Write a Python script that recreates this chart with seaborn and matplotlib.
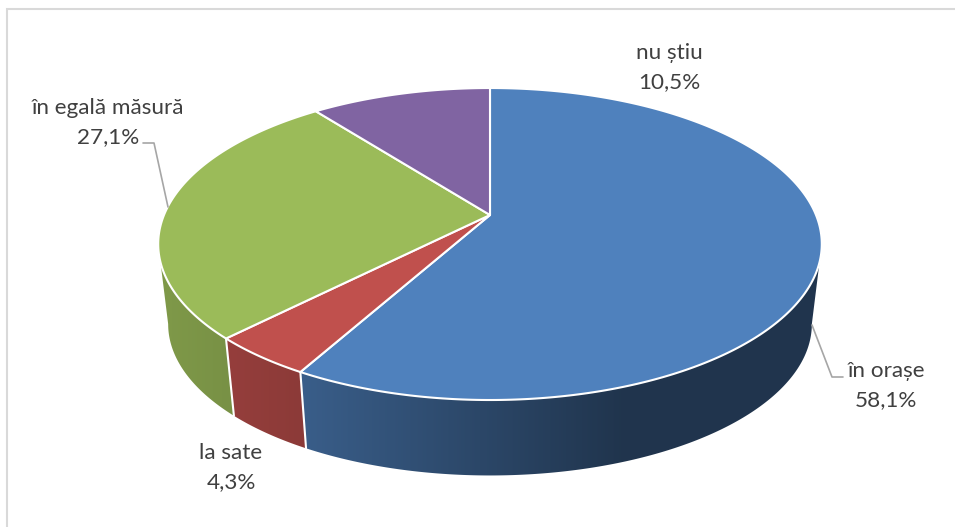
import numpy as np
import pandas as pd
import matplotlib
matplotlib.use("Agg")
import matplotlib.pyplot as plt
from matplotlib.patches import Polygon
import seaborn as sns

# Valorile (procente), in sens orar de la ora 12
categorii = ["în orașe", "la sate", "în egală măsură", "nu știu"]
valori = [58.1, 4.3, 27.1, 10.5]
culori = ["#4F81BD", "#C0504D", "#9BBB59", "#8064A2"]

# Pozitia etichetelor, in pixeli
poz_x = [886, 231, 108, 669]
poz_y = [371, 453, 108, 53]

sns.set_theme(style="white")
plt.rcParams["font.family"] = ["Lato", "DejaVu Sans"]

df = pd.DataFrame({"categorie": categorii, "valoare": valori})
df["start"] = df["valoare"].cumsum().shift(fill_value=0) * 3.6
df["stop"] = df["valoare"].cumsum() * 3.6
paleta = sns.color_palette(culori)

fig, ax = plt.subplots(figsize=(9.55, 5.27), dpi=100)
fig.subplots_adjust(0, 0, 1, 1)

# Proiectia in perspectiva a discului
CX, CY = 490, 215
K = 0.186
SCALA_X, SCALA_Y = 326, 150.6
SCALA_BAZA, ADANCIME = 0.97, 81
# Unghiurile unde peretele iese din conturul discului
TANGENTA_1, TANGENTA_2 = 100.7, 259.3


def proiectie(unghi, baza=False):
    t = np.radians(unghi)
    X = np.sin(t)
    Y = np.cos(t)
    s = SCALA_BAZA if baza else 1.0
    d = ADANCIME if baza else 0
    x = CX + s * SCALA_X * X / (1 + K * Y)
    y = CY - s * SCALA_Y * Y / (1 + K * Y) + d
    return x, y


# Degrade pe orizontala pentru pereti
coloane = np.arange(0, 955)
umbra = np.interp(coloane, [160, 300, 620, 830], [0.82, 0.73, 0.41, 0.41])

for i, r in df.iterrows():
    a = max(r["start"], TANGENTA_1)
    b = min(r["stop"], TANGENTA_2)
    if a >= b:
        continue
    unghiuri = np.linspace(a, b, 200)
    xs, ys = proiectie(unghiuri)
    xb, yb = proiectie(unghiuri, baza=True)
    contur = np.c_[np.r_[xs, xb[::-1]], np.r_[ys, yb[::-1]]]
    degrade = np.outer(umbra, np.array(paleta[i]))[np.newaxis, :, :]
    img = ax.imshow(degrade, extent=(0, 955, 527, 0), aspect="auto", zorder=2,
                    interpolation="nearest")
    img.set_clip_path(Polygon(contur, closed=True, transform=ax.transData))

# Liniile albe dintre pereti
for unghi in df["stop"].iloc[:2]:
    xs, ys = proiectie(unghi)
    xb, yb = proiectie(unghi, baza=True)
    ax.plot([xs, xb], [ys, yb], color="white", lw=1.5, zorder=3)

# Fata de sus a discului
for i, r in df.iterrows():
    unghiuri = np.linspace(r["start"], r["stop"], 300)
    xs, ys = proiectie(unghiuri)
    ax.fill(np.r_[CX, xs], np.r_[CY, ys], facecolor=paleta[i],
            edgecolor="white", lw=1.5, joinstyle="round", zorder=4)

# Linii de ghidaj
ax.plot([812, 832, 843], [325, 377, 377], color="#A6A6A6", lw=1.2, zorder=5)
ax.plot([143, 154, 168], [143, 143, 207], color="#A6A6A6", lw=1.2, zorder=5)

# Etichete
for i, r in df.iterrows():
    procent = f"{r['valoare']:.1f}%".replace(".", ",")
    ax.text(poz_x[i], poz_y[i], r["categorie"], ha="center", va="center",
            fontsize=16.2, color="#404040", zorder=6)
    ax.text(poz_x[i], poz_y[i] + 29, procent, ha="center", va="center",
            fontsize=16.2, color="#404040", zorder=6)

# Chenarul taiat al graficului
ax.plot([7, 7, 955], [527, 9, 9], color="#D9D9D9", lw=1.5, zorder=1,
        solid_joinstyle="miter")

ax.set_xlim(0, 955)
ax.set_ylim(527, 0)
ax.axis("off")

fig.savefig("out.png", dpi=100, facecolor="white")
